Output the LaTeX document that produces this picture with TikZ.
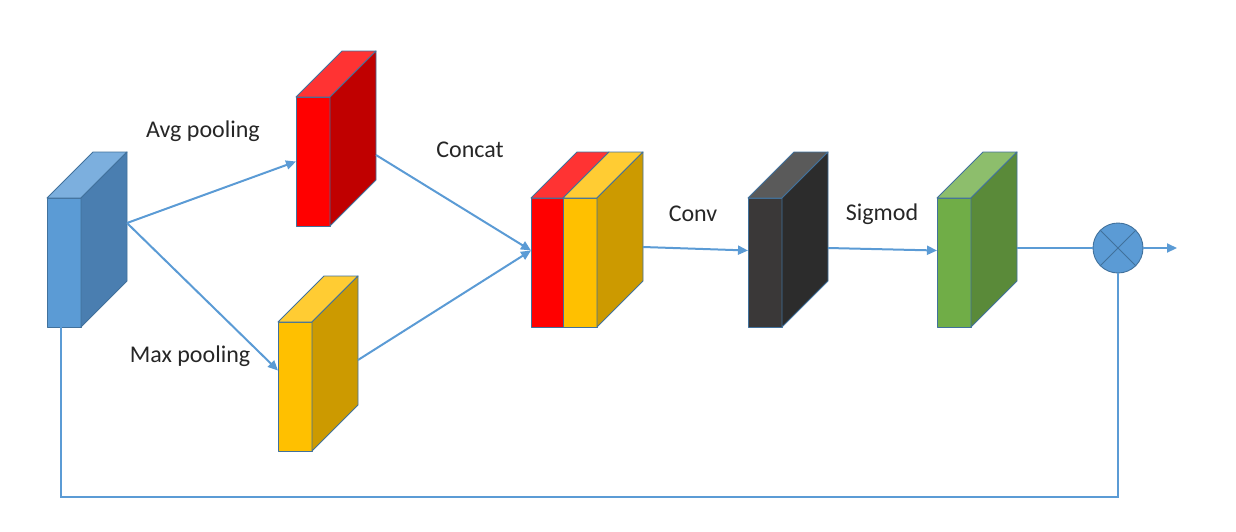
\documentclass[tikz,border=0pt]{standalone}
\usepackage{fontspec}
\setmainfont{Carlito}
\usetikzlibrary{arrows.meta}

\definecolor{linkblue}{HTML}{5B9BD5}
\definecolor{edgeblue}{HTML}{41719C}
\definecolor{bluefront}{HTML}{5B9BD5}
\definecolor{bluetop}{HTML}{7CAFDE}
\definecolor{blueside}{HTML}{4A7EB0}
\definecolor{redfront}{HTML}{FF0000}
\definecolor{redtop}{HTML}{FF3333}
\definecolor{redside}{HTML}{C00000}
\definecolor{yelfront}{HTML}{FFC000}
\definecolor{yeltop}{HTML}{FFCC33}
\definecolor{yelside}{HTML}{CC9A00}
\definecolor{darkfront}{HTML}{3A3838}
\definecolor{darktop}{HTML}{5A5A5A}
\definecolor{darkside}{HTML}{2C2C2C}
\definecolor{grnfront}{HTML}{70AD47}
\definecolor{grntop}{HTML}{8DBE6C}
\definecolor{grnside}{HTML}{5A8A39}

\tikzset{
    face/.style={draw=edgeblue, line width=0.9pt, line join=round},
    front/.style={face, anchor=north west, minimum width=34pt, minimum height=129pt, inner sep=0pt, outer sep=0pt},
    wire/.style={draw=linkblue, line width=2pt},
    link/.style={wire, -{Triangle[length=10pt,width=9pt]}},
    caption/.style={font=\fontsize{24}{28}\selectfont, text=black!85, inner sep=0pt}
}

% name, front top-left corner, front, top, side
\newcommand{\featbox}[5]{%
    \node[front, fill=#3] (#1) at (#2) {};
    \coordinate (#1 back) at ([shift={(46,-46)}]#1.north east);
    \filldraw[face, fill=#4] (#1.north west) -- (#1.north east) -- (#1 back) -- ([shift={(46,-46)}]#1.north west) -- cycle;
    \filldraw[face, fill=#5] (#1.north east) -- (#1 back) -- ([shift={(0,129)}]#1 back) -- (#1.south east) -- cycle;
}

\begin{document}
\begin{tikzpicture}[x=1pt, y=-1pt]
    \useasboundingbox (0,0) rectangle (1236,531);

    \featbox{input}{47,198}{bluefront}{bluetop}{blueside}
    \featbox{avg}{296,97}{redfront}{redtop}{redside}
    \featbox{maxp}{278,322}{yelfront}{yeltop}{yelside}

    % concat: red slice in front of the yellow block
    \node[front, fill=redfront, minimum width=32pt] (concatR) at (531,198) {};
    \filldraw[face, fill=redtop] (concatR.north west) -- (concatR.north east) -- ++(46,-46) -- ([shift={(46,-46)}]concatR.north west) -- cycle;
    \featbox{concatY}{563,198}{yelfront}{yeltop}{yelside}

    \featbox{conv}{748,198}{darkfront}{darktop}{darkside}
    \featbox{sig}{937,198}{grnfront}{grntop}{grnside}

    \node[circle, draw=edgeblue, fill=bluefront, line width=0.9pt, minimum size=50pt, inner sep=0pt] (mult) at (1118,248) {};
    \draw[edgeblue, line width=0.9pt] (mult.north west) -- (mult.south east) (mult.north east) -- (mult.south west);
    \coordinate (out) at (1177,248);

    % labels
    \node[caption] (lavg) at (203,131) {Avg pooling};
    \node[caption] (lmax) at (190,356) {Max pooling};
    \node[caption] (lcat) at (470,150) {Concat};
    \node[caption] (lconv) at (693,214) {Conv};
    \node[caption] (lsig) at (882,214) {Sigmod};

    % connectors
    \draw[link] ([shift={(0,71)}]input back) -- (avg.west);
    \draw[link] ([shift={(0,71)}]input back) -- ([shift={(0,-16)}]maxp.west);
    \draw[link] ([shift={(0,104)}]avg back) -- ([shift={(0,-12)}]concatR.west);
    \draw[link] ([shift={(0,84)}]maxp back) -- ([shift={(0,-12)}]concatR.west);
    \draw[link] ([shift={(0,95)}]concatY back) -- ([shift={(0,-12)}]conv.west);
    \draw[link] ([shift={(0,96)}]conv back) -- ([shift={(0,-12)}]sig.west);
    \draw[wire] ([shift={(0,96)}]sig back) -- (mult.west);
    \draw[link] (mult.east) -- (out);
    \draw[wire] ([xshift=-3pt]input.south) -- ++(0,170) -| (mult.south);
\end{tikzpicture}
\end{document}
